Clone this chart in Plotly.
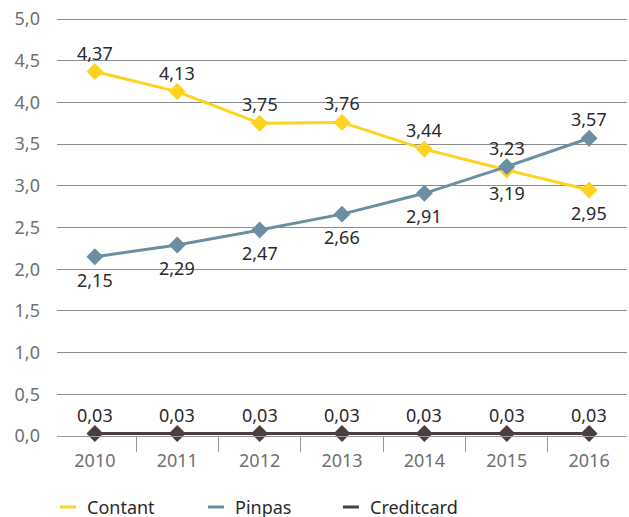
import plotly.graph_objects as go

years = ["2010", "2011", "2012", "2013", "2014", "2015", "2016"]
contant = [4.37, 4.13, 3.75, 3.76, 3.44, 3.19, 2.95]
pinpas = [2.15, 2.29, 2.47, 2.66, 2.91, 3.23, 3.57]
creditcard = [0.03, 0.03, 0.03, 0.03, 0.03, 0.03, 0.03]
names = ["Contant", "Pinpas", "Creditcard"]
colors = ["#FFD21F", "#6B8FA2", "#4B3E3E"]

# label placement: +1 above the point, -1 below
contant_side = [1, 1, 1, 1, 1, -1, -1]
pinpas_side = [-1, -1, -1, -1, -1, 1, 1]
credit_side = [1] * 7

FONT = "Noto Sans"
W, H = 629, 517
ML, MR, MT = 57, 2, 16
PW = W - ML - MR
PH = 420
MB = H - MT - PH

series = [
    (names[0], contant, colors[0], contant_side),
    (names[1], pinpas, colors[1], pinpas_side),
    (names[2], creditcard, colors[2], credit_side),
]

fig = go.Figure()
for name, vals, col, sides in series:
    fig.add_trace(go.Scatter(
        x=years, y=vals, name=name, mode="lines+markers",
        line=dict(color=col, width=3),
        marker=dict(symbol="diamond", size=13, color=col),
        cliponaxis=False, showlegend=False, hoverinfo="skip",
    ))
    for i, (yv, s) in enumerate(zip(vals, sides)):
        fig.add_annotation(
            x=i, y=yv, xref="x", yref="y", showarrow=False,
            text=f"{yv:.2f}".replace(".", ","),
            yshift=19 if s > 0 else -23,
            xanchor="center", yanchor="middle",
            font=dict(family=FONT, size=18, color="#2a2a2a"),
        )

def px(x):
    return (x - ML) / PW

def py(y):
    return (MT + PH - y) / PH

# manual legend (short line symbols)
leg_x = [60, 208, 343]
leg_y = 507
for lx, name, col in zip(leg_x, names, colors):
    fig.add_shape(type="line", xref="paper", yref="paper",
                  x0=px(lx), x1=px(lx + 16), y0=py(leg_y), y1=py(leg_y),
                  line=dict(color=col, width=3))
    fig.add_annotation(xref="paper", yref="paper",
                       x=px(lx + 25), y=py(leg_y),
                       xanchor="left", yanchor="middle", showarrow=False,
                       text=name, font=dict(family=FONT, size=18, color="#2a2a2a"))

fig.update_layout(
    width=W, height=H,
    margin=dict(l=ML, r=MR, t=MT, b=MB, autoexpand=False),
    paper_bgcolor="white", plot_bgcolor="white",
    separators=",.",
    showlegend=False,
    font=dict(family=FONT),
)
fig.update_xaxes(
    type="category", range=[-0.46, 6.46], automargin=False,
    showgrid=False, showline=True, linecolor="#999999", linewidth=1,
    ticks="outside", tickson="boundaries", ticklen=15, tickcolor="#999999",
    ticklabelstandoff=8,
    tickfont=dict(family=FONT, size=18, color="#707070"),
)
fig.update_yaxes(
    range=[0, 5.036], tickmode="linear", tick0=0, dtick=0.5, tickformat=".1f",
    automargin=False,
    showgrid=True, gridcolor="#8c8c8c", gridwidth=1,
    zeroline=True, zerolinecolor="#999999",
    ticklabelstandoff=16,
    tickfont=dict(family=FONT, size=18, color="#707070"),
)

fig.write_html("out.html", config={"displayModeBar": False},
               post_script="document.body.style.margin='0';")
